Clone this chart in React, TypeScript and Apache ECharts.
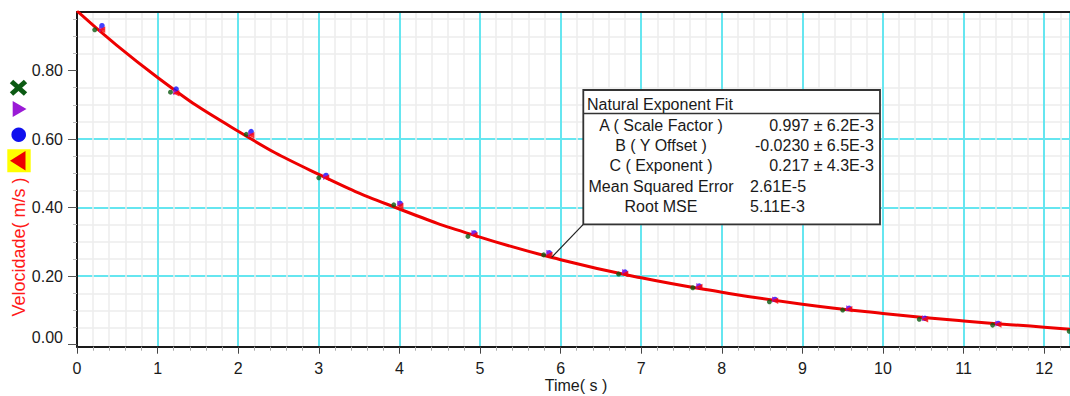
import React, { useEffect, useRef } from 'react';
import * as echarts from 'echarts';

// Fit curve (Natural Exponent Fit)
const fitTime = [0, 1, 2, 3, 4, 5, 6, 7, 8, 9, 10, 11, 12, 12.32];
const fitVelocity = [0.974, 0.780, 0.623, 0.497, 0.396, 0.314, 0.248, 0.195, 0.153, 0.118, 0.091, 0.069, 0.051, 0.045];

// Measured runs
const greenTime = [0.22, 1.16, 2.10, 3.00, 3.93, 4.85, 5.79, 6.72, 7.64, 8.59, 9.50, 10.45, 11.36, 12.31];
const greenVelocity = [0.919, 0.737, 0.614, 0.487, 0.408, 0.316, 0.262, 0.206, 0.166, 0.125, 0.101, 0.074, 0.057, 0.039];
const blueTime = [0.31, 1.23, 2.16, 3.09, 4.01, 4.93, 5.86, 6.80, 7.72, 8.66, 9.58, 10.52, 11.43];
const blueVelocity = [0.931, 0.746, 0.622, 0.494, 0.412, 0.326, 0.268, 0.212, 0.171, 0.132, 0.106, 0.077, 0.062];
const purpleTime = [0.31, 1.23, 2.16, 3.09, 4.01, 4.93, 5.86, 6.80, 7.72, 8.66, 9.58, 10.52, 11.43];
const purpleVelocity = [0.921, 0.737, 0.614, 0.489, 0.412, 0.326, 0.268, 0.212, 0.171, 0.132, 0.106, 0.077, 0.062];
const redTime = [0.31, 1.23, 2.16, 3.09, 4.01, 4.93, 5.86, 6.80, 7.72, 8.66, 9.58, 10.52, 11.43];
const redVelocity = [0.919, 0.734, 0.611, 0.487, 0.405, 0.319, 0.262, 0.206, 0.168, 0.128, 0.103, 0.074, 0.059];

const yTickValues = [0, 0.2, 0.4, 0.6, 0.8];
const xTickValues = [0, 1, 2, 3, 4, 5, 6, 7, 8, 9, 10, 11, 12];

const xTitle = 'Time( s )';
const yTitle = 'Velocidade( m/s )';
const fitTitle = 'Natural Exponent Fit';
const fitLabels = ['A ( Scale Factor )', 'B ( Y Offset )', 'C ( Exponent )', 'Mean Squared Error', 'Root MSE'];
const fitValues = ['0.997 ± 6.2E-3', '-0.0230 ± 6.5E-3', '0.217 ± 4.3E-3', '2.61E-5', '5.11E-3'];

const FONT = "'Liberation Sans', Arial, sans-serif";

const zip = (xs: number[], ys: number[]) => xs.map((x, i) => [x, ys[i]]);

export default function App() {
  const ref = useRef<HTMLDivElement>(null);

  useEffect(() => {
    if (!ref.current) return;
    const chart = echarts.init(ref.current, undefined, { renderer: 'svg' });

    const rowY = [125, 145.5, 165.5, 186, 206.5];
    const boxTexts: any[] = [];
    boxTexts.push({
      type: 'text', z: 101,
      style: { text: fitTitle, x: 587, y: 104, font: `16px ${FONT}`, fill: '#1a1a1a', textAlign: 'left', textVerticalAlign: 'middle', align: 'left', verticalAlign: 'middle' },
    });
    fitLabels.forEach((t, i) => {
      boxTexts.push({
        type: 'text', z: 101,
        style: { text: t, x: 661, y: rowY[i], font: `16px ${FONT}`, fill: '#1a1a1a', textAlign: 'center', textVerticalAlign: 'middle', align: 'center', verticalAlign: 'middle' },
      });
    });
    fitValues.forEach((t, i) => {
      const right = i < 3;
      boxTexts.push({
        type: 'text', z: 101,
        style: {
          text: t, x: right ? 874 : 750, y: rowY[i], font: `16px ${FONT}`, fill: '#1a1a1a',
          textAlign: right ? 'right' : 'left', textVerticalAlign: 'middle', align: right ? 'right' : 'left', verticalAlign: 'middle',
        },
      });
    });

    const option: any = {
      animation: false,
      backgroundColor: '#ffffff',
      grid: { left: 77, right: 0, top: 12, bottom: 49.3, containLabel: false, outerBoundsMode: 'none' },
      xAxis: [
        {
          type: 'value', min: 0, max: 12.32, interval: 1,
          axisLine: { show: true, onZero: false, lineStyle: { color: '#1a1a1a', width: 2 } },
          axisTick: { show: true, length: 7, lineStyle: { color: '#444', width: 1 } },
          minorTick: { show: true, splitNumber: 5, length: 4, lineStyle: { color: '#aaa', width: 1 } },
          axisLabel: {
            margin: 14, color: '#1a1a1a', fontSize: 16, fontFamily: FONT, showMaxLabel: false,
            formatter: (v: number) => (xTickValues.includes(Math.round(v * 1000) / 1000) ? String(v) : ''),
          },
          splitLine: { show: true, lineStyle: { color: '#66e6f0', width: 2 } },
          minorSplitLine: { show: true, lineStyle: { color: '#ececec', width: 1.5 } },
        },
        {
          type: 'value', position: 'top', min: 0, max: 12.32,
          axisLine: { show: true, onZero: false, lineStyle: { color: '#1a1a1a', width: 2 } },
          axisTick: { show: false }, axisLabel: { show: false }, splitLine: { show: false },
        },
      ],
      yAxis: {
        type: 'value', min: -0.006, max: 0.971, splitNumber: 5,
        axisLine: { show: true, onZero: false, lineStyle: { color: '#1a1a1a', width: 2 } },
        axisTick: { show: true, length: 9, customValues: yTickValues, lineStyle: { color: '#555', width: 1 } },
        minorTick: { show: true, splitNumber: 4, length: 4, lineStyle: { color: '#bbb', width: 1 } },
        axisLabel: {
          margin: 14, color: '#1a1a1a', fontSize: 16, fontFamily: FONT, customValues: yTickValues,
          formatter: (v: number) => {
            const k = v / 0.2;
            if (Math.abs(k - Math.round(k)) >= 1e-4) return '';
            if (Math.abs(v) < 1e-6) return '{z|0.00}';
            return v.toFixed(2);
          },
          rich: {
            z: { fontSize: 16, fontFamily: FONT, color: '#1a1a1a', padding: [0, 0, 15, 0] },
          },
        },
        splitLine: { show: true, showMinLine: false, showMaxLine: false, lineStyle: { color: '#66e6f0', width: 2 } },
        minorSplitLine: { show: true, lineStyle: { color: '#ececec', width: 1.5 } },
      },
      series: [
        {
          type: 'line', name: 'Fit', data: zip(fitTime, fitVelocity), smooth: 0.5, showSymbol: false,
          lineStyle: { color: '#ee0000', width: 3 }, z: 3,
        },
        {
          type: 'scatter', name: 'Run 1', data: zip(greenTime, greenVelocity), symbol: 'circle', symbolSize: 5,
          itemStyle: { color: '#0b5a12' }, z: 4,
        },
        {
          type: 'scatter', name: 'Run 2', data: zip(blueTime, blueVelocity), symbol: 'circle', symbolSize: 5.5,
          itemStyle: { color: '#1010ff' }, z: 5,
        },
        {
          type: 'scatter', name: 'Run 3', data: zip(purpleTime, purpleVelocity), symbol: 'triangle', symbolRotate: -90, symbolSize: 6,
          itemStyle: { color: '#9a1ad6' }, z: 6,
        },
        {
          type: 'scatter', name: 'Run 4', data: zip(redTime, redVelocity), symbol: 'triangle', symbolRotate: 90, symbolSize: 6.5,
          itemStyle: { color: '#ff0000' }, z: 7,
        },
      ],
      graphic: [
        // legend icons on the left
        { type: 'line', shape: { x1: 11.5, y1: 81.5, x2: 25.5, y2: 94 }, style: { stroke: '#0b5a12', lineWidth: 5 } },
        { type: 'line', shape: { x1: 11.5, y1: 94, x2: 25.5, y2: 81.5 }, style: { stroke: '#0b5a12', lineWidth: 5 } },
        { type: 'polygon', shape: { points: [[12.7, 101], [26.5, 109], [12.7, 117]] }, style: { fill: '#9a1ad6' } },
        { type: 'circle', shape: { cx: 18.7, cy: 134.7, r: 7.3 }, style: { fill: '#1010ee' } },
        { type: 'rect', shape: { x: 7.3, y: 149.3, width: 23.4, height: 23 }, style: { fill: '#ffff00' } },
        { type: 'polygon', shape: { points: [[25.5, 151], [10, 160.7], [25.5, 170.5]] }, style: { fill: '#ee0000' } },
        // axis titles
        {
          type: 'text', x: 19, y: 247, rotation: Math.PI / 2,
          style: { text: yTitle, x: 0, y: 0, font: `18px ${FONT}`, fill: '#ff1a1a', textAlign: 'center', textVerticalAlign: 'middle', align: 'center', verticalAlign: 'middle' },
        },
        {
          type: 'text',
          style: { text: xTitle, x: 576, y: 385.5, font: `16px ${FONT}`, fill: '#1a1a1a', textAlign: 'center', textVerticalAlign: 'middle', align: 'center', verticalAlign: 'middle' },
        },
        // fit box leader line
        { type: 'line', z: 100, shape: { x1: 583.3, y1: 224.3, x2: 551.7, y2: 257.3 }, style: { stroke: '#222', lineWidth: 1.2 } },
        // fit box
        { type: 'rect', z: 100, shape: { x: 583.3, y: 90, width: 296.7, height: 134.3 }, style: { fill: '#ffffff', stroke: '#333', lineWidth: 1.8 } },
        { type: 'line', z: 101, shape: { x1: 583.3, y1: 113.5, x2: 880, y2: 113.5 }, style: { stroke: '#333', lineWidth: 1.3 } },
        ...boxTexts,
      ],
    };

    chart.setOption(option);
    return () => chart.dispose();
  }, []);

  return (
    <div
      ref={ref}
      style={{ position: 'absolute', left: 0, top: 0, width: 1070, height: 396, background: '#fff' }}
    />
  );
}
